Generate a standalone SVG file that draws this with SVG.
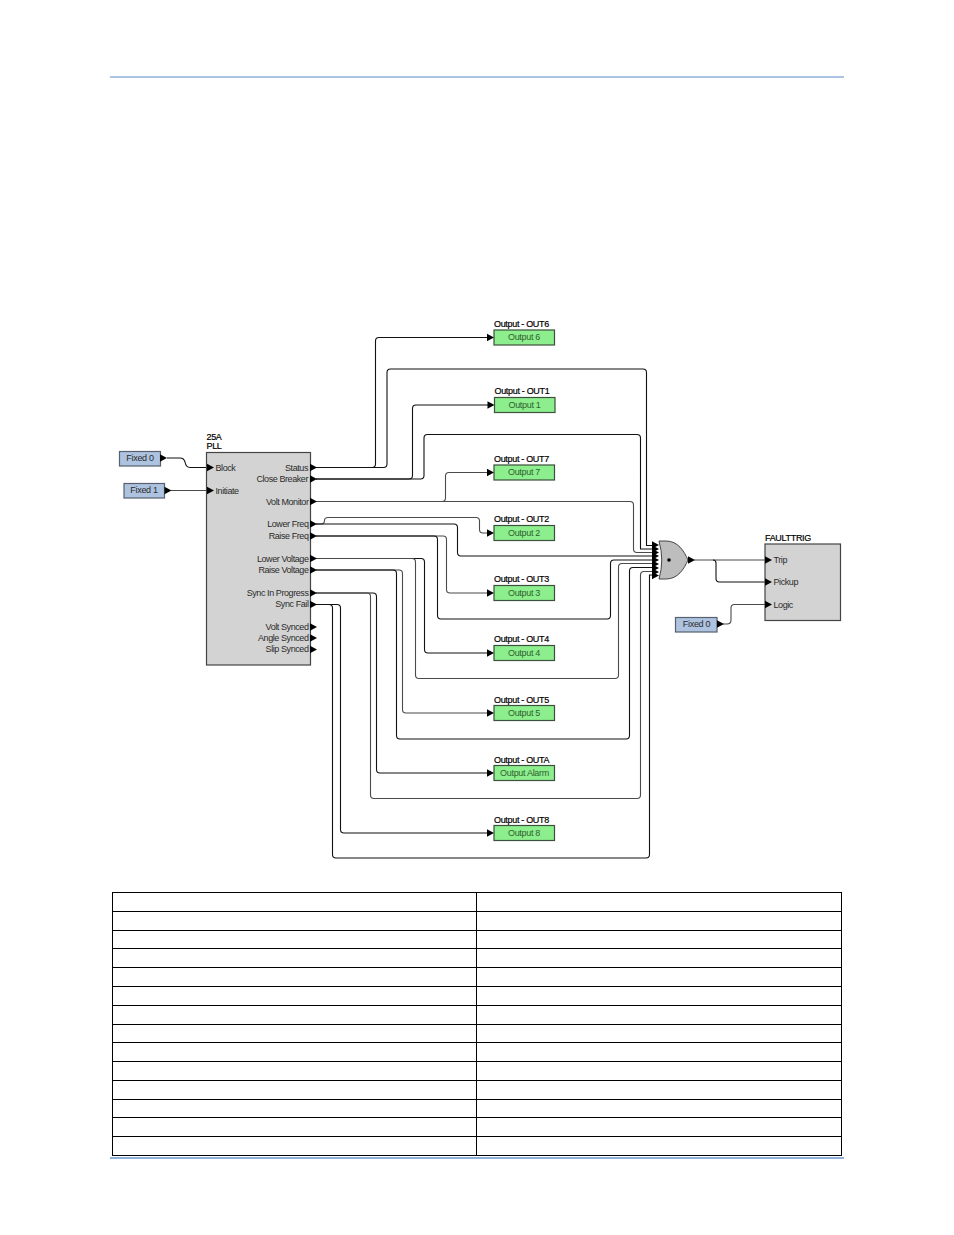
<svg xmlns="http://www.w3.org/2000/svg" xmlns:xlink="http://www.w3.org/1999/xlink" width="954" height="1235" viewBox="0 0 954 1235">
<style>
text{font-family:"Liberation Sans",Arial,sans-serif;font-size:9px;letter-spacing:-.42px;fill:#2b2b2b}
.t{fill:#000;stroke:#000;stroke-width:.2;letter-spacing:-.32px}
.m{text-anchor:middle;letter-spacing:-.3px}
.n{fill:#2f5f2f}
.e{text-anchor:end}
.o{fill:#8cee8c;stroke:#3d4f3d;stroke-width:1.2}
.f{fill:#aec3e0;stroke:#56606e;stroke-width:1.2}
.b{fill:#d3d3d3;stroke:#444;stroke-width:1.2}
.w{fill:none;stroke:#111;stroke-width:1.1}
.g{fill:none;stroke:#4a4a4a;stroke-width:1.1}
.tb{fill:none;stroke:#000;stroke-width:1}
.r{stroke:#8fb0da;fill:none}
</style>
<defs><polygon id="a" points="0,-3.8 7,0 0,3.8" fill="#000"/></defs>
<rect width="954" height="1235" fill="#fff"/>
<g id="page-rules">
<path class="r" stroke-width="1.5" d="M110 77H844"/>
<path class="r" stroke-width="2" d="M110 1158H844"/>
</g>
<g id="table">
<rect class="tb" x="112.500" y="892.500" width="729" height="263"/>
<path class="tb" d="M476.500 892.500V1155.500M112.500 911.500H841.500M112.500 930.500H841.500M112.500 948.500H841.500M112.500 967.500H841.500M112.500 986.500H841.500M112.500 1005.500H841.500M112.500 1024.500H841.500M112.500 1042.500H841.500M112.500 1061.500H841.500M112.500 1080.500H841.500M112.500 1099.500H841.500M112.500 1117.500H841.500M112.500 1136.500H841.500"/>
</g>
<g id="connectors">
<path class="w" d="M167 458H180Q184 458 185 462Q186 467.500 190 467.500H207"/>
<path class="g" d="M171 490.500H207"/>
<path class="w" d="M316 467.500H372Q375.500 467.500 375.500 464V341Q375.500 337.500 379 337.500H488"/>
<path class="w" d="M316 467.500H383.500Q387 467.500 387 464V372.500Q387 369 390.500 369H643Q646.500 369 646.500 372.500V545.500H653"/>
<path class="w" d="M316 479H409Q412.500 479 412.500 475.500V408.500Q412.500 405 416 405H488"/>
<path class="w" d="M316 479H420.500Q424 479 424 475.500V438Q424 434.500 427.500 434.500H637Q640.500 434.500 640.500 438V549H653"/>
<path class="g" d="M316 501.500H442Q445.500 501.500 445.500 498V476Q445.500 472.500 449 472.500H488"/>
<path class="g" d="M316 501.500H630Q633.500 501.500 633.500 505V549Q633.500 552.500 637 552.500H653"/>
<path class="g" d="M316 524H321Q324.500 524 324.500 520.500Q324.500 517.500 328 517.500H476Q479.500 517.500 479.500 521V529.500Q479.500 533 483 533H488"/>
<path class="w" d="M316 524H454Q457.500 524 457.500 527.500V552.500Q457.500 556 461 556H653"/>
<path class="g" d="M316 536H443Q446.500 536 446.500 539.500V589.500Q446.500 593 450 593H488"/>
<path class="w" d="M316 536H434Q437.500 536 437.500 539.500V615.500Q437.500 619 441 619H607Q610.500 619 610.500 615.500V563.500Q610.500 560 614 560H653"/>
<path class="w" d="M316 558.500H421Q424.500 558.500 424.500 562V649.500Q424.500 653 428 653H488"/>
<path class="g" d="M316 558.500H412Q415.500 558.500 415.500 562V675Q415.500 678.500 419 678.500H615Q618.500 678.500 618.500 675V567Q618.500 563.500 622 563.500H653"/>
<path class="g" d="M316 570H399Q402.500 570 402.500 573.500V709.500Q402.500 713 406 713H488"/>
<path class="w" d="M316 570H393Q396.500 570 396.500 573.500V735.500Q396.500 739 400 739H626Q629.500 739 629.500 735.500V571Q629.500 567.500 633 567.500H653"/>
<path class="w" d="M316 593H373Q376.500 593 376.500 596.500V769.500Q376.500 773 380 773H488"/>
<path class="g" d="M316 593H367Q370.500 593 370.500 596.500V795Q370.500 798.500 374 798.500H637Q640.500 798.500 640.500 795V575Q640.500 571.500 644 571.500H653"/>
<path class="w" d="M316 604.500H337Q340.500 604.500 340.500 608V829.500Q340.500 833 344 833H488"/>
<path class="w" d="M316 604.500H329Q332.500 604.500 332.500 608V854.500Q332.500 858 336 858H646Q649.500 858 649.500 854.500V575H653"/>
<path class="g" d="M694 560H766"/>
<path class="w" d="M713 560Q716 560 716 563V578.500Q716 582 719.500 582H766"/>
<path class="g" d="M723 624H727Q731 624 731 620V608Q731 604.500 734.500 604.500H766"/>
</g>
<g id="fixed0a"><rect class="f" x="119.500" y="451.500" width="41" height="14.500"/><text class="m" x="140" y="460.800">Fixed 0</text><use xlink:href="#a" x="160" y="458"/></g>
<g id="fixed1"><rect class="f" x="124" y="483.500" width="40.500" height="14.500"/><text class="m" x="144" y="493.300">Fixed 1</text><use xlink:href="#a" x="164.500" y="490.500"/></g>
<g id="pll">
<text class="t" x="206.500" y="440">25A</text><text class="t" x="206.500" y="449">PLL</text>
<rect class="b" x="206.500" y="452.500" width="104" height="212.500"/>
<use xlink:href="#a" x="207" y="467.500"/><use xlink:href="#a" x="207" y="490.500"/>
<text x="215.500" y="471">Block</text><text x="215.500" y="494">Initiate</text>
<g>
<text class="e" x="308" y="470.800">Status</text>
<text class="e" x="308" y="481.800">Close Breaker</text>
<text class="e" x="308.500" y="504.800">Volt Monitor</text>
<text class="e" x="308.500" y="527">Lower Freq</text>
<text class="e" x="308.500" y="538.800">Raise Freq</text>
<text class="e" x="308.500" y="561.500">Lower Voltage</text>
<text class="e" x="308.500" y="572.500">Raise Voltage</text>
<text class="e" x="308.500" y="595.800">Sync In Progress</text>
<text class="e" x="308.500" y="606.800">Sync Fail</text>
<text class="e" x="308.500" y="629.500">Volt Synced</text>
<text class="e" x="308.500" y="640.500">Angle Synced</text>
<text class="e" x="308.500" y="652">Slip Synced</text>
</g>
<use xlink:href="#a" x="310" y="467.500"/><use xlink:href="#a" x="310" y="479"/><use xlink:href="#a" x="310" y="501.500"/><use xlink:href="#a" x="310" y="524"/><use xlink:href="#a" x="310" y="536"/><use xlink:href="#a" x="310" y="558.500"/><use xlink:href="#a" x="310" y="570"/><use xlink:href="#a" x="310" y="593"/><use xlink:href="#a" x="310" y="604.500"/><use xlink:href="#a" x="310" y="627"/><use xlink:href="#a" x="310" y="638"/><use xlink:href="#a" x="310" y="649.500"/>
</g>
<g id="out6"><text class="t" x="494" y="326.800">Output - OUT6</text><rect class="o" x="494" y="330" width="60.500" height="15"/><text class="m n" x="524" y="340">Output 6</text><use xlink:href="#a" x="487" y="337.500"/></g>
<g id="out1"><text class="t" x="494.500" y="394.300">Output - OUT1</text><rect class="o" x="494.500" y="397.500" width="60.500" height="15"/><text class="m n" x="524.500" y="407.800">Output 1</text><use xlink:href="#a" x="487.500" y="405"/></g>
<g id="out7"><text class="t" x="494" y="461.800">Output - OUT7</text><rect class="o" x="494" y="465" width="60.500" height="15"/><text class="m n" x="524" y="475">Output 7</text><use xlink:href="#a" x="487" y="472.500"/></g>
<g id="out2"><text class="t" x="494" y="521.800">Output - OUT2</text><rect class="o" x="494" y="525.500" width="60.500" height="15"/><text class="m n" x="524" y="535.500">Output 2</text><use xlink:href="#a" x="487" y="533"/></g>
<g id="out3"><text class="t" x="494" y="581.800">Output - OUT3</text><rect class="o" x="494" y="585.500" width="60.500" height="15"/><text class="m n" x="524" y="595.500">Output 3</text><use xlink:href="#a" x="487" y="593"/></g>
<g id="out4"><text class="t" x="494" y="641.800">Output - OUT4</text><rect class="o" x="494" y="645.500" width="60.500" height="15"/><text class="m n" x="524" y="655.500">Output 4</text><use xlink:href="#a" x="487" y="653"/></g>
<g id="out5"><text class="t" x="494" y="702.500">Output - OUT5</text><rect class="o" x="494" y="705.500" width="60.500" height="15"/><text class="m n" x="524" y="715.500">Output 5</text><use xlink:href="#a" x="487" y="713"/></g>
<g id="outa"><text class="t" x="494" y="762.500">Output - OUTA</text><rect class="o" x="494" y="765.500" width="60.500" height="15"/><text class="m n" x="524.500" y="775.500">Output Alarm</text><use xlink:href="#a" x="487" y="773"/></g>
<g id="out8"><text class="t" x="494" y="822.500">Output - OUT8</text><rect class="o" x="494" y="825.500" width="60.500" height="15"/><text class="m n" x="524" y="835.500">Output 8</text><use xlink:href="#a" x="487" y="833"/></g>
<g id="or-gate">
<path d="M659 541H666C678 541 684 551 688 560C684 569 678 579 666 579H659Q664.500 560 659 541Z" fill="#bdbdbd" stroke="#444" stroke-width="1"/>
<circle cx="669" cy="560" r="1.800" fill="#000"/>
<use xlink:href="#a" x="652" y="545"/><use xlink:href="#a" x="652" y="549"/><use xlink:href="#a" x="652" y="552.500"/><use xlink:href="#a" x="652" y="556"/><use xlink:href="#a" x="652" y="560"/><use xlink:href="#a" x="652" y="564"/><use xlink:href="#a" x="652" y="568"/><use xlink:href="#a" x="652" y="572"/><use xlink:href="#a" x="652" y="575.500"/>
<use xlink:href="#a" x="688" y="560"/>
</g>
<g id="faulttrig">
<text class="t" x="765" y="541">FAULTTRIG</text>
<rect class="b" x="765" y="544" width="75.500" height="76.500"/>
<use xlink:href="#a" x="765" y="560"/><use xlink:href="#a" x="765" y="582"/><use xlink:href="#a" x="765" y="604.500"/>
<text x="773.500" y="563">Trip</text><text x="773.500" y="585">Pickup</text><text x="773.500" y="607.800">Logic</text>
</g>
<g id="fixed0b"><rect class="f" x="675.500" y="617.500" width="41.500" height="14.500"/><text class="m" x="696.500" y="627">Fixed 0</text><use xlink:href="#a" x="717" y="624"/></g>
</svg>
